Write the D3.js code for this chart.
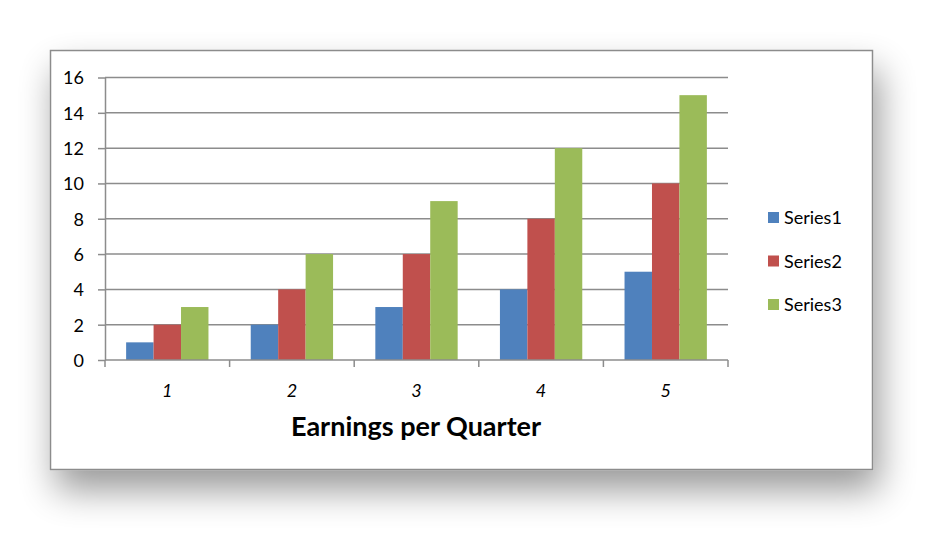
<!DOCTYPE html>
<html>
<head>
<meta charset="utf-8">
<script src="https://cdn.jsdelivr.net/npm/d3@7"></script>
<style>
  body { margin: 0; background: #fff; }
  text { font-family: Lato, "Open Sans", sans-serif; fill: #000; }
</style>
</head>
<body>
<div id="chart"></div>
<script>
'use strict';

// data
var quarters = ['1', '2', '3', '4', '5'];
var seriesNames = ['Series1', 'Series2', 'Series3'];
var series1 = [1, 2, 3, 4, 5];
var series2 = [2, 4, 6, 8, 10];
var series3 = [3, 6, 9, 12, 15];
var yTicks = [0, 2, 4, 6, 8, 10, 12, 14, 16];
var colors = ['#4F81BD', '#C0504D', '#9BBB59'];
var title = 'Earnings per Quarter';

var width = 939, height = 537;
var allSeries = [series1, series2, series3];

var svg = d3.select('#chart').append('svg')
    .attr('width', width)
    .attr('height', height);

var defs = svg.append('defs');
var filter = defs.append('filter')
    .attr('id', 'shadow')
    .attr('x', '-15%').attr('y', '-15%')
    .attr('width', '140%').attr('height', '160%');
filter.append('feGaussianBlur')
    .attr('in', 'SourceAlpha')
    .attr('stdDeviation', 18);
filter.append('feOffset')
    .attr('dx', 6).attr('dy', 20)
    .attr('result', 'off');
filter.append('feComponentTransfer')
    .append('feFuncA').attr('type', 'linear').attr('slope', 0.4);
var merge = filter.append('feMerge');
merge.append('feMergeNode');
merge.append('feMergeNode').attr('in', 'SourceGraphic');

// chart frame
svg.append('rect')
    .attr('x', 50.5).attr('y', 50.5)
    .attr('width', 822).attr('height', 419)
    .attr('fill', '#fff')
    .attr('stroke', '#8c8c8c')
    .attr('stroke-width', 1.5)
    .attr('filter', 'url(#shadow)');

var plot = {left: 105, right: 728, top: 77.5, bottom: 360};

var x = d3.scaleBand()
    .domain(quarters)
    .range([plot.left, plot.right]);

var xInner = d3.scaleBand()
    .domain(seriesNames)
    .range([0, x.bandwidth()])
    .paddingOuter(0.77)
    .paddingInner(0);

var y = d3.scaleLinear()
    .domain([0, 16])
    .range([plot.bottom, plot.top]);

// gridlines + y ticks
var yAxis = svg.append('g')
    .attr('transform', 'translate(' + plot.left + ',0)')
    .call(d3.axisLeft(y).tickValues(yTicks).tickSize(7).tickPadding(14)
        .tickSizeOuter(0));
yAxis.select('.domain').attr('stroke', '#8c8c8c').attr('stroke-width', 1.5);
yAxis.selectAll('.tick line').attr('stroke', '#8c8c8c').attr('stroke-width', 1.5);
yAxis.selectAll('.tick text')
    .attr('dy', '0.36em')
    .style('font-size', '18px')
    .style('font-family', 'Lato, sans-serif');

svg.append('g').selectAll('line')
    .data(yTicks.filter(function (d) { return d > 0; }))
    .enter().append('line')
    .attr('x1', plot.left).attr('x2', plot.right)
    .attr('y1', function (d) { return y(d); })
    .attr('y2', function (d) { return y(d); })
    .attr('stroke', '#8c8c8c')
    .attr('stroke-width', 1.5);

// bars
var groups = svg.append('g').selectAll('g')
    .data(quarters)
    .enter().append('g')
    .attr('transform', function (d) { return 'translate(' + x(d) + ',0)'; });

groups.selectAll('rect')
    .data(function (q, i) {
        return seriesNames.map(function (s, j) {
            return {name: s, value: allSeries[j][i], color: colors[j]};
        });
    })
    .enter().append('rect')
    .attr('x', function (d) { return xInner(d.name); })
    .attr('width', xInner.bandwidth())
    .attr('y', function (d) { return y(d.value); })
    .attr('height', function (d) { return y(0) - y(d.value); })
    .attr('fill', function (d) { return d.color; });

// x axis
svg.append('line')
    .attr('x1', plot.left).attr('x2', plot.right)
    .attr('y1', plot.bottom).attr('y2', plot.bottom)
    .attr('stroke', '#8c8c8c').attr('stroke-width', 1.5);

var bounds = quarters.map(function (q) { return x(q); }).concat([plot.right]);
svg.append('g').selectAll('line')
    .data(bounds)
    .enter().append('line')
    .attr('x1', function (d) { return d; })
    .attr('x2', function (d) { return d; })
    .attr('y1', plot.bottom).attr('y2', plot.bottom + 7)
    .attr('stroke', '#8c8c8c').attr('stroke-width', 1.5);

svg.append('g').selectAll('text')
    .data(quarters)
    .enter().append('text')
    .attr('x', function (d) { return x(d) + x.bandwidth() / 2; })
    .attr('y', 397)
    .attr('text-anchor', 'middle')
    .style('font-size', '18px')
    .style('font-style', 'italic')
    .text(function (d) { return d; });

// title
svg.append('text')
    .attr('x', 416)
    .attr('y', 436)
    .attr('text-anchor', 'middle')
    .style('font-size', '27px')
    .style('font-weight', 'bold')
    .text(title);

// legend
var legend = svg.append('g').selectAll('g')
    .data(seriesNames)
    .enter().append('g')
    .attr('transform', function (d, i) { return 'translate(768,' + (212 + i * 43.5) + ')'; });

legend.append('rect')
    .attr('width', 11).attr('height', 11)
    .attr('fill', function (d, i) { return colors[i]; });

legend.append('text')
    .attr('x', 16)
    .attr('y', 12)
    .style('font-size', '18px')
    .text(function (d) { return d; });
</script>
</body>
</html>
